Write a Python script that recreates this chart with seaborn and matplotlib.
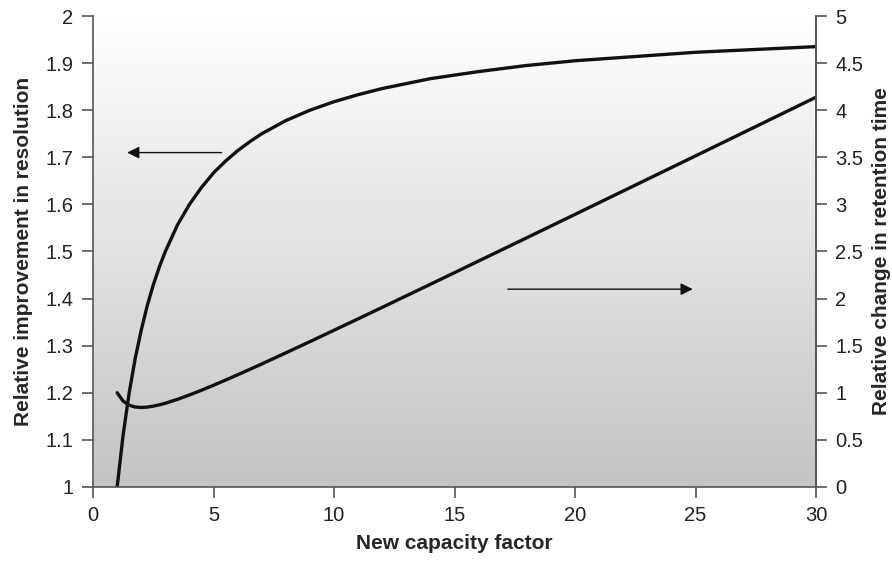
import numpy as np
import pandas as pd
import matplotlib
matplotlib.use("Agg")
import matplotlib.pyplot as plt
import seaborn as sns

# valores
capacidade = [1, 1.25, 1.5, 1.75, 2, 2.25, 2.5, 2.75, 3, 3.5, 4, 4.5, 5, 5.5, 6, 6.5, 7, 8, 9,
              10, 11, 12, 14, 16, 18, 20, 25, 30]
resolucao = [1.0, 1.111, 1.2, 1.273, 1.333, 1.385, 1.429, 1.467, 1.5, 1.556, 1.6, 1.636,
             1.667, 1.692, 1.714, 1.733, 1.75, 1.778, 1.8, 1.818, 1.833, 1.846, 1.867,
             1.882, 1.895, 1.905, 1.923, 1.935]
retencao = [1.0, 0.911, 0.868, 0.849, 0.844, 0.848, 0.858, 0.872, 0.889, 0.93, 0.977, 1.027,
            1.08, 1.135, 1.191, 1.248, 1.306, 1.424, 1.543, 1.664, 1.785, 1.907, 2.152,
            2.399, 2.646, 2.894, 3.515, 4.138]

df = pd.DataFrame({"k": capacidade, "res": resolucao, "ret": retencao})

sns.set_style("ticks")
plt.rcParams["font.family"] = ["Liberation Sans", "DejaVu Sans"]

fig = plt.figure(figsize=(8.92, 5.62), dpi=100)
ax = fig.add_axes([0.1043, 0.1335, 0.8105, 0.838])

# fundo em degrade
grad = np.linspace(0, 1, 256).reshape(-1, 1)
cmap = matplotlib.colors.LinearSegmentedColormap.from_list("g", ["#c4c4c4", "#ffffff"])
ax.imshow(grad, extent=[0, 30, 1, 2], aspect="auto", cmap=cmap, origin="lower", zorder=0)

sns.lineplot(data=df, x="k", y="res", ax=ax, color="#111111", linewidth=2.4)
ax.set_xlim(0, 30)
ax.set_ylim(1, 2)
ax.set_xticks([0, 5, 10, 15, 20, 25, 30])
ax.set_yticks(np.arange(1, 2.01, 0.1))
ax.set_yticklabels(["1", "1.1", "1.2", "1.3", "1.4", "1.5", "1.6", "1.7", "1.8", "1.9", "2"])
ax.set_xlabel("New capacity factor", fontsize=15, fontweight="bold", labelpad=6)
ax.set_ylabel("Relative improvement in resolution", fontsize=15, fontweight="bold", labelpad=9)

ax2 = ax.twinx()
sns.lineplot(data=df, x="k", y="ret", ax=ax2, color="#111111", linewidth=2.4)
ax2.set_ylim(0, 5)
ax2.set_yticks(np.arange(0, 5.01, 0.5))
ax2.set_yticklabels(["0", "0.5", "1", "1.5", "2", "2.5", "3", "3.5", "4", "4.5", "5"])
ax2.set_ylabel("Relative change in retention time", fontsize=15, fontweight="bold", labelpad=6)
ax2.set_xlim(0, 30)

for a in (ax, ax2):
    a.spines["top"].set_visible(False)
    for s in a.spines.values():
        s.set_color("#555555")
        s.set_linewidth(1.2)
    a.tick_params(labelsize=14.5, length=8, width=1.2, color="#555555", labelcolor="#222222",
                  direction="out", pad=6)
ax2.spines["left"].set_visible(False)
ax2.spines["bottom"].set_visible(False)

# setas
ax.annotate("", xy=(1.3, 1.71), xytext=(5.45, 1.71),
            arrowprops=dict(arrowstyle="-|>", color="#111111", lw=1, mutation_scale=18))
ax.annotate("", xy=(25.0, 1.42), xytext=(17.1, 1.42),
            arrowprops=dict(arrowstyle="-|>", color="#111111", lw=1, mutation_scale=18))

plt.savefig("out.png", dpi=100)
